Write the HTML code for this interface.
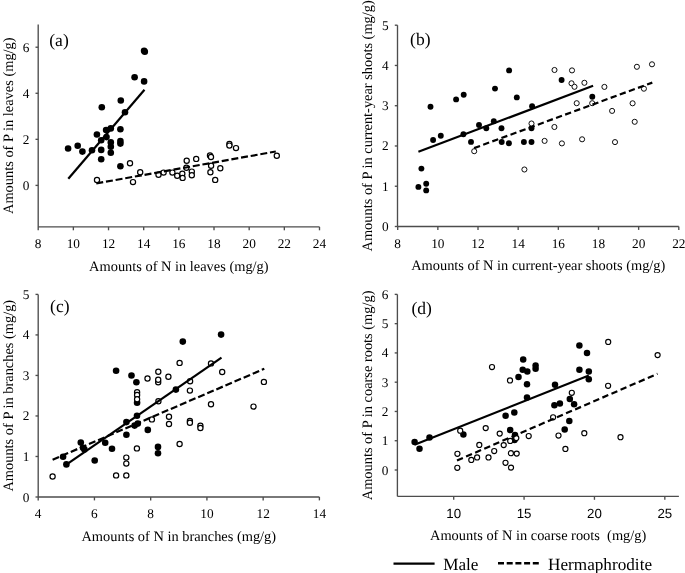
<!DOCTYPE html>
<html><head><meta charset="utf-8"><style>
html,body{margin:0;padding:0;background:#fff;}
svg{display:block;text-rendering:geometricPrecision;filter:grayscale(1);}
text{font-family:"Liberation Serif",serif;fill:#000;}
.ax{stroke:#4d4d4d;stroke-width:1.35;fill:none;}
.tl{font-size:13.3px;}
.tt{font-size:14.4px;}
.pl{font-size:17.5px;}
.lg{font-size:17.2px;}
.sl{stroke:#000;stroke-width:2.2;fill:none;}
.dl{stroke:#000;stroke-width:2.2;fill:none;stroke-dasharray:7 2.8;}
.f{fill:#000;stroke:none;}
.o{fill:#fff;stroke:#000;stroke-width:1.2;}
</style></head><body>
<svg width="685" height="573" viewBox="0 0 685 573">
<line x1="38.2" y1="24.5" x2="38.2" y2="226.9" class="ax"/>
<line x1="38.2" y1="226.9" x2="319.5" y2="226.9" class="ax"/>
<line x1="35.5" y1="185.4" x2="38.2" y2="185.4" class="ax"/>
<text x="29.30" y="189.90" class="tl" text-anchor="end" style="font-family:'Liberation Serif', serif">0</text>
<line x1="35.5" y1="139.34" x2="38.2" y2="139.34" class="ax"/>
<text x="29.30" y="143.84" class="tl" text-anchor="end" style="font-family:'Liberation Serif', serif">2</text>
<line x1="35.5" y1="93.28" x2="38.2" y2="93.28" class="ax"/>
<text x="29.30" y="97.78" class="tl" text-anchor="end" style="font-family:'Liberation Serif', serif">4</text>
<line x1="35.5" y1="47.22" x2="38.2" y2="47.22" class="ax"/>
<text x="29.30" y="51.72" class="tl" text-anchor="end" style="font-family:'Liberation Serif', serif">6</text>
<line x1="38.2" y1="226.9" x2="38.2" y2="230.3" class="ax"/>
<text x="38.2" y="248.10" class="tl" text-anchor="middle" style="font-family:'Liberation Serif', serif">8</text>
<line x1="73.36" y1="226.9" x2="73.36" y2="230.3" class="ax"/>
<text x="73.36" y="248.10" class="tl" text-anchor="middle" style="font-family:'Liberation Serif', serif">10</text>
<line x1="108.53" y1="226.9" x2="108.53" y2="230.3" class="ax"/>
<text x="108.53" y="248.10" class="tl" text-anchor="middle" style="font-family:'Liberation Serif', serif">12</text>
<line x1="143.69" y1="226.9" x2="143.69" y2="230.3" class="ax"/>
<text x="143.69" y="248.10" class="tl" text-anchor="middle" style="font-family:'Liberation Serif', serif">14</text>
<line x1="178.85" y1="226.9" x2="178.85" y2="230.3" class="ax"/>
<text x="178.85" y="248.10" class="tl" text-anchor="middle" style="font-family:'Liberation Serif', serif">16</text>
<line x1="214.01" y1="226.9" x2="214.01" y2="230.3" class="ax"/>
<text x="214.01" y="248.10" class="tl" text-anchor="middle" style="font-family:'Liberation Serif', serif">18</text>
<line x1="249.18" y1="226.9" x2="249.18" y2="230.3" class="ax"/>
<text x="249.18" y="248.10" class="tl" text-anchor="middle" style="font-family:'Liberation Serif', serif">20</text>
<line x1="284.34" y1="226.9" x2="284.34" y2="230.3" class="ax"/>
<text x="284.34" y="248.10" class="tl" text-anchor="middle" style="font-family:'Liberation Serif', serif">22</text>
<line x1="319.5" y1="226.9" x2="319.5" y2="230.3" class="ax"/>
<text x="319.5" y="248.10" class="tl" text-anchor="middle" style="font-family:'Liberation Serif', serif">24</text>
<text x="178.85" y="270.6" class="tt" text-anchor="middle">Amounts of N in leaves (mg/g)</text>
<text transform="translate(13.1 125.70) rotate(-90)" class="tt" text-anchor="middle">Amounts of P in leaves (mg/g)</text>
<text x="49.3" y="45.9" class="pl">(a)</text>
<line x1="397.5" y1="25.2" x2="397.5" y2="226.5" class="ax"/>
<line x1="397.5" y1="226.5" x2="678.8" y2="226.5" class="ax"/>
<line x1="394.8" y1="226.5" x2="397.5" y2="226.5" class="ax"/>
<text x="388.60" y="231.00" class="tl" text-anchor="end" style="font-family:'Liberation Serif', serif">0</text>
<line x1="394.8" y1="186.24" x2="397.5" y2="186.24" class="ax"/>
<text x="388.60" y="190.74" class="tl" text-anchor="end" style="font-family:'Liberation Serif', serif">1</text>
<line x1="394.8" y1="145.98" x2="397.5" y2="145.98" class="ax"/>
<text x="388.60" y="150.48" class="tl" text-anchor="end" style="font-family:'Liberation Serif', serif">2</text>
<line x1="394.8" y1="105.72" x2="397.5" y2="105.72" class="ax"/>
<text x="388.60" y="110.22" class="tl" text-anchor="end" style="font-family:'Liberation Serif', serif">3</text>
<line x1="394.8" y1="65.46" x2="397.5" y2="65.46" class="ax"/>
<text x="388.60" y="69.96" class="tl" text-anchor="end" style="font-family:'Liberation Serif', serif">4</text>
<line x1="394.8" y1="25.2" x2="397.5" y2="25.2" class="ax"/>
<text x="388.60" y="29.70" class="tl" text-anchor="end" style="font-family:'Liberation Serif', serif">5</text>
<line x1="397.7" y1="226.5" x2="397.7" y2="229.9" class="ax"/>
<text x="397.7" y="247.70" class="tl" text-anchor="middle" style="font-family:'Liberation Serif', serif">8</text>
<line x1="437.86" y1="226.5" x2="437.86" y2="229.9" class="ax"/>
<text x="437.86" y="247.70" class="tl" text-anchor="middle" style="font-family:'Liberation Serif', serif">10</text>
<line x1="478.01" y1="226.5" x2="478.01" y2="229.9" class="ax"/>
<text x="478.01" y="247.70" class="tl" text-anchor="middle" style="font-family:'Liberation Serif', serif">12</text>
<line x1="518.17" y1="226.5" x2="518.17" y2="229.9" class="ax"/>
<text x="518.17" y="247.70" class="tl" text-anchor="middle" style="font-family:'Liberation Serif', serif">14</text>
<line x1="558.33" y1="226.5" x2="558.33" y2="229.9" class="ax"/>
<text x="558.33" y="247.70" class="tl" text-anchor="middle" style="font-family:'Liberation Serif', serif">16</text>
<line x1="598.49" y1="226.5" x2="598.49" y2="229.9" class="ax"/>
<text x="598.49" y="247.70" class="tl" text-anchor="middle" style="font-family:'Liberation Serif', serif">18</text>
<line x1="638.64" y1="226.5" x2="638.64" y2="229.9" class="ax"/>
<text x="638.64" y="247.70" class="tl" text-anchor="middle" style="font-family:'Liberation Serif', serif">20</text>
<line x1="678.8" y1="226.5" x2="678.8" y2="229.9" class="ax"/>
<text x="678.8" y="247.70" class="tl" text-anchor="middle" style="font-family:'Liberation Serif', serif">22</text>
<text x="538.25" y="270.2" class="tt" text-anchor="middle">Amounts of N in current-year shoots (mg/g)</text>
<text transform="translate(372.3 125.85) rotate(-90)" class="tt" text-anchor="middle">Amounts of P in current-year shoots (mg/g)</text>
<text x="410.1" y="44.9" class="pl">(b)</text>
<line x1="38.2" y1="294.4" x2="38.2" y2="497.0" class="ax"/>
<line x1="38.2" y1="497.0" x2="319.4" y2="497.0" class="ax"/>
<line x1="35.5" y1="497.0" x2="38.2" y2="497.0" class="ax"/>
<text x="29.30" y="501.50" class="tl" text-anchor="end" style="font-family:'Liberation Serif', serif">0</text>
<line x1="35.5" y1="456.48" x2="38.2" y2="456.48" class="ax"/>
<text x="29.30" y="460.98" class="tl" text-anchor="end" style="font-family:'Liberation Serif', serif">1</text>
<line x1="35.5" y1="415.96" x2="38.2" y2="415.96" class="ax"/>
<text x="29.30" y="420.46" class="tl" text-anchor="end" style="font-family:'Liberation Serif', serif">2</text>
<line x1="35.5" y1="375.44" x2="38.2" y2="375.44" class="ax"/>
<text x="29.30" y="379.94" class="tl" text-anchor="end" style="font-family:'Liberation Serif', serif">3</text>
<line x1="35.5" y1="334.92" x2="38.2" y2="334.92" class="ax"/>
<text x="29.30" y="339.42" class="tl" text-anchor="end" style="font-family:'Liberation Serif', serif">4</text>
<line x1="35.5" y1="294.4" x2="38.2" y2="294.4" class="ax"/>
<text x="29.30" y="298.90" class="tl" text-anchor="end" style="font-family:'Liberation Serif', serif">5</text>
<line x1="38.2" y1="497.0" x2="38.2" y2="500.4" class="ax"/>
<text x="38.2" y="518.20" class="tl" text-anchor="middle" style="font-family:'Liberation Serif', serif">4</text>
<line x1="94.44" y1="497.0" x2="94.44" y2="500.4" class="ax"/>
<text x="94.44" y="518.20" class="tl" text-anchor="middle" style="font-family:'Liberation Serif', serif">6</text>
<line x1="150.68" y1="497.0" x2="150.68" y2="500.4" class="ax"/>
<text x="150.68" y="518.20" class="tl" text-anchor="middle" style="font-family:'Liberation Serif', serif">8</text>
<line x1="206.92" y1="497.0" x2="206.92" y2="500.4" class="ax"/>
<text x="206.92" y="518.20" class="tl" text-anchor="middle" style="font-family:'Liberation Serif', serif">10</text>
<line x1="263.16" y1="497.0" x2="263.16" y2="500.4" class="ax"/>
<text x="263.16" y="518.20" class="tl" text-anchor="middle" style="font-family:'Liberation Serif', serif">12</text>
<line x1="319.4" y1="497.0" x2="319.4" y2="500.4" class="ax"/>
<text x="319.4" y="518.20" class="tl" text-anchor="middle" style="font-family:'Liberation Serif', serif">14</text>
<text x="178.80" y="540.6" class="tt" text-anchor="middle">Amounts of N in branches (mg/g)</text>
<text transform="translate(13.1 395.70) rotate(-90)" class="tt" text-anchor="middle">Amounts of P in branches (mg/g)</text>
<text x="50.1" y="312.1" class="pl">(c)</text>
<line x1="397.4" y1="294.4" x2="397.4" y2="496.4" class="ax"/>
<line x1="397.4" y1="496.4" x2="678.9" y2="496.4" class="ax"/>
<line x1="394.7" y1="470.0" x2="397.4" y2="470.0" class="ax"/>
<text x="388.50" y="474.50" class="tl" text-anchor="end" style="font-family:'Liberation Serif', serif">0</text>
<line x1="394.7" y1="440.73" x2="397.4" y2="440.73" class="ax"/>
<text x="388.50" y="445.23" class="tl" text-anchor="end" style="font-family:'Liberation Serif', serif">1</text>
<line x1="394.7" y1="411.46" x2="397.4" y2="411.46" class="ax"/>
<text x="388.50" y="415.96" class="tl" text-anchor="end" style="font-family:'Liberation Serif', serif">2</text>
<line x1="394.7" y1="382.19" x2="397.4" y2="382.19" class="ax"/>
<text x="388.50" y="386.69" class="tl" text-anchor="end" style="font-family:'Liberation Serif', serif">3</text>
<line x1="394.7" y1="352.92" x2="397.4" y2="352.92" class="ax"/>
<text x="388.50" y="357.42" class="tl" text-anchor="end" style="font-family:'Liberation Serif', serif">4</text>
<line x1="394.7" y1="323.65" x2="397.4" y2="323.65" class="ax"/>
<text x="388.50" y="328.15" class="tl" text-anchor="end" style="font-family:'Liberation Serif', serif">5</text>
<line x1="394.7" y1="294.38" x2="397.4" y2="294.38" class="ax"/>
<text x="388.50" y="298.88" class="tl" text-anchor="end" style="font-family:'Liberation Serif', serif">6</text>
<line x1="453.7" y1="496.4" x2="453.7" y2="499.79999999999995" class="ax"/>
<text x="453.7" y="517.60" class="tl" text-anchor="middle" style="font-family:'Liberation Sans', sans-serif">10</text>
<line x1="524.07" y1="496.4" x2="524.07" y2="499.79999999999995" class="ax"/>
<text x="524.07" y="517.60" class="tl" text-anchor="middle" style="font-family:'Liberation Sans', sans-serif">15</text>
<line x1="594.45" y1="496.4" x2="594.45" y2="499.79999999999995" class="ax"/>
<text x="594.45" y="517.60" class="tl" text-anchor="middle" style="font-family:'Liberation Sans', sans-serif">20</text>
<line x1="664.83" y1="496.4" x2="664.83" y2="499.79999999999995" class="ax"/>
<text x="664.83" y="517.60" class="tl" text-anchor="middle" style="font-family:'Liberation Sans', sans-serif">25</text>
<text x="538.15" y="539.8" class="tt" text-anchor="middle">Amounts of N in coarse roots  (mg/g)</text>
<text transform="translate(372.3 395.40) rotate(-90)" class="tt" text-anchor="middle">Amounts of P in coarse roots (mg/g)</text>
<text x="411.4" y="314.0" class="pl">(d)</text>
<circle cx="144.1" cy="50.8" r="3.3" class="f"/>
<circle cx="144.8" cy="51.7" r="3.3" class="f"/>
<circle cx="134.6" cy="77.2" r="3.3" class="f"/>
<circle cx="144.1" cy="81.4" r="3.3" class="f"/>
<circle cx="120.8" cy="100.5" r="3.3" class="f"/>
<circle cx="101.8" cy="107.2" r="3.3" class="f"/>
<circle cx="125.0" cy="112.3" r="3.3" class="f"/>
<circle cx="110.8" cy="128.4" r="3.3" class="f"/>
<circle cx="106.1" cy="130.1" r="3.3" class="f"/>
<circle cx="120.4" cy="129.3" r="3.3" class="f"/>
<circle cx="96.9" cy="134.5" r="3.3" class="f"/>
<circle cx="106.5" cy="137.1" r="3.3" class="f"/>
<circle cx="101.2" cy="140.3" r="3.3" class="f"/>
<circle cx="68.1" cy="148.5" r="3.3" class="f"/>
<circle cx="77.7" cy="145.8" r="3.3" class="f"/>
<circle cx="82.4" cy="151.6" r="3.3" class="f"/>
<circle cx="92.0" cy="150.2" r="3.3" class="f"/>
<circle cx="101.2" cy="149.9" r="3.3" class="f"/>
<circle cx="110.8" cy="142.4" r="3.3" class="f"/>
<circle cx="110.8" cy="146.7" r="3.3" class="f"/>
<circle cx="120.4" cy="141.0" r="3.3" class="f"/>
<circle cx="120.4" cy="143.6" r="3.3" class="f"/>
<circle cx="110.8" cy="152.8" r="3.3" class="f"/>
<circle cx="101.2" cy="159.3" r="3.3" class="f"/>
<circle cx="120.4" cy="166.3" r="3.3" class="f"/>
<circle cx="130.0" cy="163.3" r="2.6" class="o" style="stroke-width:1.2"/>
<circle cx="140.2" cy="172.2" r="2.6" class="o" style="stroke-width:1.2"/>
<circle cx="97.0" cy="180.0" r="2.6" class="o" style="stroke-width:1.2"/>
<circle cx="133.0" cy="182.1" r="2.6" class="o" style="stroke-width:1.2"/>
<circle cx="158.5" cy="174.8" r="2.6" class="o" style="stroke-width:1.2"/>
<circle cx="163.6" cy="172.6" r="2.6" class="o" style="stroke-width:1.2"/>
<circle cx="172.4" cy="172.6" r="2.6" class="o" style="stroke-width:1.2"/>
<circle cx="177.2" cy="175.7" r="2.6" class="o" style="stroke-width:1.2"/>
<circle cx="182.3" cy="173.8" r="2.6" class="o" style="stroke-width:1.2"/>
<circle cx="182.6" cy="177.9" r="2.6" class="o" style="stroke-width:1.2"/>
<circle cx="186.7" cy="160.7" r="2.6" class="o" style="stroke-width:1.2"/>
<circle cx="186.4" cy="167.7" r="2.6" class="o" style="stroke-width:1.2"/>
<circle cx="191.8" cy="171.6" r="2.6" class="o" style="stroke-width:1.2"/>
<circle cx="191.8" cy="175.3" r="2.6" class="o" style="stroke-width:1.2"/>
<circle cx="196.2" cy="158.9" r="2.6" class="o" style="stroke-width:1.2"/>
<circle cx="210.0" cy="155.5" r="2.6" class="o" style="stroke-width:1.2"/>
<circle cx="211.0" cy="157.0" r="2.6" class="o" style="stroke-width:1.2"/>
<circle cx="211.1" cy="165.8" r="2.6" class="o" style="stroke-width:1.2"/>
<circle cx="210.4" cy="172.3" r="2.6" class="o" style="stroke-width:1.2"/>
<circle cx="220.3" cy="168.2" r="2.6" class="o" style="stroke-width:1.2"/>
<circle cx="215.2" cy="179.9" r="2.6" class="o" style="stroke-width:1.2"/>
<circle cx="229.4" cy="143.9" r="2.6" class="o" style="stroke-width:1.2"/>
<circle cx="229.4" cy="145.6" r="2.6" class="o" style="stroke-width:1.2"/>
<circle cx="236.0" cy="148.1" r="2.6" class="o" style="stroke-width:1.2"/>
<circle cx="276.8" cy="155.7" r="2.6" class="o" style="stroke-width:1.2"/>
<circle cx="418.4" cy="186.9" r="2.95" class="f"/>
<circle cx="426.2" cy="183.8" r="2.95" class="f"/>
<circle cx="426.2" cy="190.4" r="2.95" class="f"/>
<circle cx="421.4" cy="168.6" r="2.95" class="f"/>
<circle cx="430.5" cy="106.7" r="2.95" class="f"/>
<circle cx="433.1" cy="140.0" r="2.95" class="f"/>
<circle cx="440.8" cy="135.7" r="2.95" class="f"/>
<circle cx="456.1" cy="99.4" r="2.95" class="f"/>
<circle cx="463.7" cy="94.7" r="2.95" class="f"/>
<circle cx="463.4" cy="134.2" r="2.95" class="f"/>
<circle cx="471.0" cy="141.9" r="2.95" class="f"/>
<circle cx="479.0" cy="125.0" r="2.95" class="f"/>
<circle cx="486.3" cy="128.2" r="2.95" class="f"/>
<circle cx="495.0" cy="88.6" r="2.95" class="f"/>
<circle cx="493.8" cy="121.3" r="2.95" class="f"/>
<circle cx="501.5" cy="128.2" r="2.95" class="f"/>
<circle cx="501.7" cy="142.0" r="2.95" class="f"/>
<circle cx="508.9" cy="143.3" r="2.95" class="f"/>
<circle cx="509.1" cy="70.4" r="2.95" class="f"/>
<circle cx="516.8" cy="97.4" r="2.95" class="f"/>
<circle cx="523.9" cy="142.0" r="2.95" class="f"/>
<circle cx="531.5" cy="142.0" r="2.95" class="f"/>
<circle cx="532.1" cy="106.2" r="2.95" class="f"/>
<circle cx="531.5" cy="128.2" r="2.95" class="f"/>
<circle cx="561.6" cy="80.0" r="2.95" class="f"/>
<circle cx="592.3" cy="96.7" r="2.95" class="f"/>
<circle cx="474.2" cy="151.2" r="2.55" class="o" style="stroke-width:0.95"/>
<circle cx="524.4" cy="169.5" r="2.55" class="o" style="stroke-width:0.95"/>
<circle cx="531.5" cy="123.5" r="2.55" class="o" style="stroke-width:0.95"/>
<circle cx="544.6" cy="140.9" r="2.55" class="o" style="stroke-width:0.95"/>
<circle cx="554.4" cy="127.0" r="2.55" class="o" style="stroke-width:0.95"/>
<circle cx="561.9" cy="143.4" r="2.55" class="o" style="stroke-width:0.95"/>
<circle cx="554.5" cy="70.0" r="2.55" class="o" style="stroke-width:0.95"/>
<circle cx="572.0" cy="70.4" r="2.55" class="o" style="stroke-width:0.95"/>
<circle cx="571.5" cy="83.3" r="2.55" class="o" style="stroke-width:0.95"/>
<circle cx="574.5" cy="86.8" r="2.55" class="o" style="stroke-width:0.95"/>
<circle cx="584.4" cy="82.8" r="2.55" class="o" style="stroke-width:0.95"/>
<circle cx="576.7" cy="103.2" r="2.55" class="o" style="stroke-width:0.95"/>
<circle cx="582.1" cy="139.3" r="2.55" class="o" style="stroke-width:0.95"/>
<circle cx="592.2" cy="103.2" r="2.55" class="o" style="stroke-width:0.95"/>
<circle cx="604.4" cy="86.9" r="2.55" class="o" style="stroke-width:0.95"/>
<circle cx="612.1" cy="110.9" r="2.55" class="o" style="stroke-width:0.95"/>
<circle cx="615.0" cy="142.1" r="2.55" class="o" style="stroke-width:0.95"/>
<circle cx="632.6" cy="103.3" r="2.55" class="o" style="stroke-width:0.95"/>
<circle cx="634.7" cy="121.8" r="2.55" class="o" style="stroke-width:0.95"/>
<circle cx="636.9" cy="66.8" r="2.55" class="o" style="stroke-width:0.95"/>
<circle cx="643.9" cy="88.7" r="2.55" class="o" style="stroke-width:0.95"/>
<circle cx="652.0" cy="64.3" r="2.55" class="o" style="stroke-width:0.95"/>
<circle cx="63.1" cy="456.8" r="3.3" class="f"/>
<circle cx="66.4" cy="464.4" r="3.3" class="f"/>
<circle cx="80.8" cy="442.6" r="3.3" class="f"/>
<circle cx="83.0" cy="447.8" r="3.3" class="f"/>
<circle cx="84.4" cy="449.4" r="3.3" class="f"/>
<circle cx="94.7" cy="460.5" r="3.3" class="f"/>
<circle cx="105.2" cy="442.8" r="3.3" class="f"/>
<circle cx="112.0" cy="448.8" r="3.3" class="f"/>
<circle cx="126.4" cy="422.1" r="3.3" class="f"/>
<circle cx="126.4" cy="434.7" r="3.3" class="f"/>
<circle cx="134.6" cy="425.6" r="3.3" class="f"/>
<circle cx="137.8" cy="423.6" r="3.3" class="f"/>
<circle cx="137.0" cy="415.7" r="3.3" class="f"/>
<circle cx="131.5" cy="375.5" r="3.3" class="f"/>
<circle cx="136.4" cy="382.3" r="3.3" class="f"/>
<circle cx="116.1" cy="370.7" r="3.3" class="f"/>
<circle cx="137.1" cy="402.8" r="3.3" class="f"/>
<circle cx="147.8" cy="429.9" r="3.3" class="f"/>
<circle cx="158.0" cy="446.9" r="3.3" class="f"/>
<circle cx="158.0" cy="453.2" r="3.3" class="f"/>
<circle cx="175.9" cy="389.6" r="3.3" class="f"/>
<circle cx="182.8" cy="341.6" r="3.3" class="f"/>
<circle cx="221.1" cy="334.6" r="3.3" class="f"/>
<circle cx="52.6" cy="476.5" r="2.6" class="o" style="stroke-width:1.2"/>
<circle cx="116.1" cy="475.4" r="2.6" class="o" style="stroke-width:1.2"/>
<circle cx="126.3" cy="475.4" r="2.6" class="o" style="stroke-width:1.2"/>
<circle cx="126.3" cy="457.6" r="2.6" class="o" style="stroke-width:1.2"/>
<circle cx="126.3" cy="463.6" r="2.6" class="o" style="stroke-width:1.2"/>
<circle cx="136.9" cy="448.4" r="2.6" class="o" style="stroke-width:1.2"/>
<circle cx="137.1" cy="392.3" r="2.6" class="o" style="stroke-width:1.2"/>
<circle cx="137.1" cy="395.0" r="2.6" class="o" style="stroke-width:1.2"/>
<circle cx="137.1" cy="399.3" r="2.6" class="o" style="stroke-width:1.2"/>
<circle cx="147.5" cy="378.5" r="2.6" class="o" style="stroke-width:1.2"/>
<circle cx="158.3" cy="371.8" r="2.6" class="o" style="stroke-width:1.2"/>
<circle cx="158.2" cy="382.2" r="2.6" class="o" style="stroke-width:1.2"/>
<circle cx="158.2" cy="379.7" r="2.6" class="o" style="stroke-width:1.2"/>
<circle cx="168.4" cy="376.8" r="2.6" class="o" style="stroke-width:1.2"/>
<circle cx="179.6" cy="362.9" r="2.6" class="o" style="stroke-width:1.2"/>
<circle cx="158.4" cy="401.3" r="2.6" class="o" style="stroke-width:1.2"/>
<circle cx="151.9" cy="419.4" r="2.6" class="o" style="stroke-width:1.2"/>
<circle cx="169.0" cy="416.7" r="2.6" class="o" style="stroke-width:1.2"/>
<circle cx="169.0" cy="424.0" r="2.6" class="o" style="stroke-width:1.2"/>
<circle cx="189.9" cy="421.0" r="2.6" class="o" style="stroke-width:1.2"/>
<circle cx="189.9" cy="422.8" r="2.6" class="o" style="stroke-width:1.2"/>
<circle cx="200.4" cy="425.8" r="2.6" class="o" style="stroke-width:1.2"/>
<circle cx="200.4" cy="428.0" r="2.6" class="o" style="stroke-width:1.2"/>
<circle cx="179.6" cy="444.0" r="2.6" class="o" style="stroke-width:1.2"/>
<circle cx="190.1" cy="381.3" r="2.6" class="o" style="stroke-width:1.2"/>
<circle cx="189.9" cy="390.6" r="2.6" class="o" style="stroke-width:1.2"/>
<circle cx="211.0" cy="363.4" r="2.6" class="o" style="stroke-width:1.2"/>
<circle cx="222.2" cy="372.0" r="2.6" class="o" style="stroke-width:1.2"/>
<circle cx="211.0" cy="404.2" r="2.6" class="o" style="stroke-width:1.2"/>
<circle cx="263.9" cy="381.9" r="2.6" class="o" style="stroke-width:1.2"/>
<circle cx="253.5" cy="406.6" r="2.6" class="o" style="stroke-width:1.2"/>
<circle cx="414.6" cy="441.9" r="3.25" class="f"/>
<circle cx="419.5" cy="448.7" r="3.25" class="f"/>
<circle cx="429.5" cy="437.5" r="3.25" class="f"/>
<circle cx="463.4" cy="434.6" r="3.25" class="f"/>
<circle cx="505.6" cy="415.8" r="3.25" class="f"/>
<circle cx="514.3" cy="412.5" r="3.25" class="f"/>
<circle cx="510.2" cy="430.1" r="3.25" class="f"/>
<circle cx="515.0" cy="435.0" r="3.25" class="f"/>
<circle cx="514.5" cy="440.0" r="3.25" class="f"/>
<circle cx="518.5" cy="376.9" r="3.25" class="f"/>
<circle cx="523.2" cy="359.4" r="3.25" class="f"/>
<circle cx="522.7" cy="369.7" r="3.25" class="f"/>
<circle cx="527.3" cy="371.4" r="3.25" class="f"/>
<circle cx="535.6" cy="365.4" r="3.25" class="f"/>
<circle cx="535.6" cy="368.8" r="3.25" class="f"/>
<circle cx="527.0" cy="384.3" r="3.25" class="f"/>
<circle cx="527.0" cy="397.5" r="3.25" class="f"/>
<circle cx="555.0" cy="384.8" r="3.25" class="f"/>
<circle cx="554.4" cy="405.2" r="3.25" class="f"/>
<circle cx="559.9" cy="403.4" r="3.25" class="f"/>
<circle cx="569.8" cy="399.1" r="3.25" class="f"/>
<circle cx="574.1" cy="404.3" r="3.25" class="f"/>
<circle cx="569.3" cy="421.0" r="3.25" class="f"/>
<circle cx="564.7" cy="429.6" r="3.25" class="f"/>
<circle cx="579.4" cy="345.4" r="3.25" class="f"/>
<circle cx="587.0" cy="353.0" r="3.25" class="f"/>
<circle cx="579.4" cy="369.7" r="3.25" class="f"/>
<circle cx="588.8" cy="371.5" r="3.25" class="f"/>
<circle cx="588.8" cy="379.2" r="3.25" class="f"/>
<circle cx="460.2" cy="430.7" r="2.55" class="o" style="stroke-width:1.15"/>
<circle cx="457.4" cy="453.8" r="2.55" class="o" style="stroke-width:1.15"/>
<circle cx="457.3" cy="467.8" r="2.55" class="o" style="stroke-width:1.15"/>
<circle cx="471.3" cy="459.9" r="2.55" class="o" style="stroke-width:1.15"/>
<circle cx="477.1" cy="457.4" r="2.55" class="o" style="stroke-width:1.15"/>
<circle cx="479.3" cy="444.9" r="2.55" class="o" style="stroke-width:1.15"/>
<circle cx="485.7" cy="428.1" r="2.55" class="o" style="stroke-width:1.15"/>
<circle cx="488.5" cy="457.4" r="2.55" class="o" style="stroke-width:1.15"/>
<circle cx="494.2" cy="451.0" r="2.55" class="o" style="stroke-width:1.15"/>
<circle cx="492.0" cy="367.0" r="2.55" class="o" style="stroke-width:1.15"/>
<circle cx="510.0" cy="380.4" r="2.55" class="o" style="stroke-width:1.15"/>
<circle cx="499.7" cy="433.6" r="2.55" class="o" style="stroke-width:1.15"/>
<circle cx="503.7" cy="445.1" r="2.55" class="o" style="stroke-width:1.15"/>
<circle cx="510.2" cy="440.9" r="2.55" class="o" style="stroke-width:1.15"/>
<circle cx="516.3" cy="438.1" r="2.55" class="o" style="stroke-width:1.15"/>
<circle cx="510.9" cy="453.2" r="2.55" class="o" style="stroke-width:1.15"/>
<circle cx="516.7" cy="453.6" r="2.55" class="o" style="stroke-width:1.15"/>
<circle cx="505.5" cy="462.8" r="2.55" class="o" style="stroke-width:1.15"/>
<circle cx="511.0" cy="467.6" r="2.55" class="o" style="stroke-width:1.15"/>
<circle cx="528.7" cy="436.0" r="2.55" class="o" style="stroke-width:1.15"/>
<circle cx="553.1" cy="417.3" r="2.55" class="o" style="stroke-width:1.15"/>
<circle cx="558.5" cy="435.5" r="2.55" class="o" style="stroke-width:1.15"/>
<circle cx="565.4" cy="448.9" r="2.55" class="o" style="stroke-width:1.15"/>
<circle cx="571.8" cy="392.8" r="2.55" class="o" style="stroke-width:1.15"/>
<circle cx="584.3" cy="433.2" r="2.55" class="o" style="stroke-width:1.15"/>
<circle cx="608.2" cy="341.9" r="2.55" class="o" style="stroke-width:1.15"/>
<circle cx="608.1" cy="385.8" r="2.55" class="o" style="stroke-width:1.15"/>
<circle cx="620.5" cy="437.2" r="2.55" class="o" style="stroke-width:1.15"/>
<circle cx="657.6" cy="355.1" r="2.55" class="o" style="stroke-width:1.15"/>
<line x1="68.3" y1="178.8" x2="144.5" y2="89.8" class="sl"/>
<line x1="96.3" y1="183.4" x2="275.8" y2="151.5" class="dl" style="stroke-dasharray:7 2.8"/>
<line x1="418.4" y1="151.8" x2="593.1" y2="85.8" class="sl"/>
<line x1="474.1" y1="148.1" x2="652.3" y2="82.6" class="dl" style="stroke-dasharray:6.3 3.4"/>
<line x1="64.5" y1="465.8" x2="221.5" y2="357.7" class="sl"/>
<line x1="52.6" y1="459.7" x2="264.3" y2="368.8" class="dl" style="stroke-dasharray:7 2.9"/>
<line x1="414.5" y1="444.7" x2="588.8" y2="375.6" class="sl"/>
<line x1="457.0" y1="460.5" x2="657.5" y2="373.8" class="dl" style="stroke-dasharray:6.4 3.5"/>
<line x1="393.5" y1="563.6" x2="434.6" y2="563.6" class="sl" style="stroke-width:2.4"/>
<line x1="498" y1="563.2" x2="538.8" y2="563.2" class="dl" style="stroke-width:2.4;stroke-dasharray:6 2.7"/>
<text x="443.2" y="569.6" class="lg">Male</text>
<text x="548.0" y="569.6" class="lg">Hermaphrodite</text>
</svg>
</body></html>
